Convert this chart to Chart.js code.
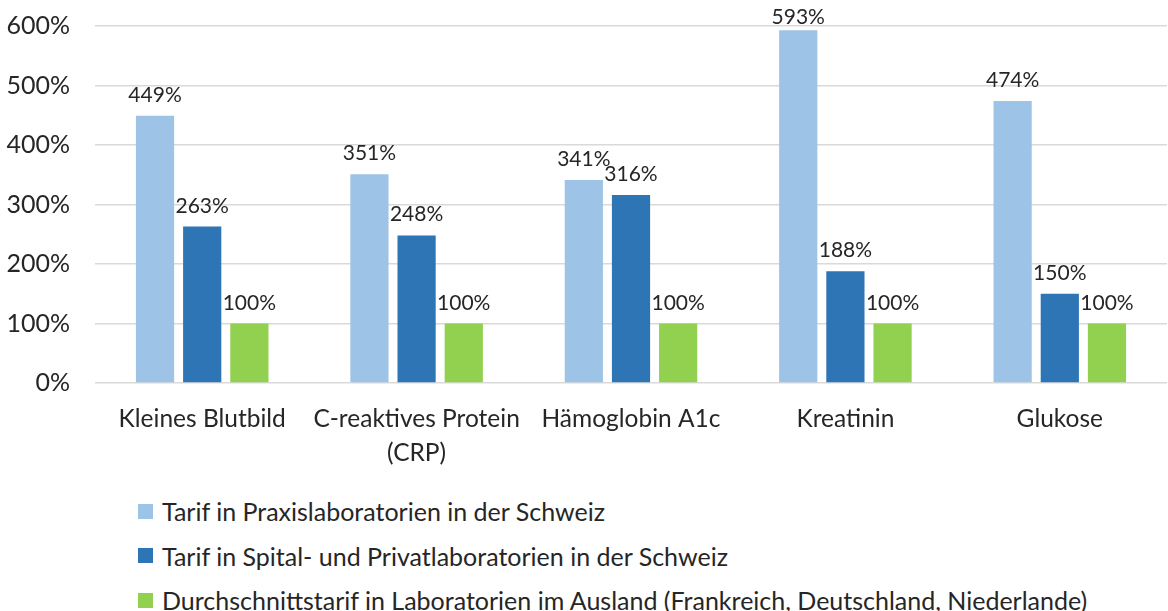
<!DOCTYPE html>
<html>
<head>
<meta charset="utf-8">
<script src="https://cdn.jsdelivr.net/npm/chart.js@4/dist/chart.umd.min.js"></script>
<style>
  body { margin: 0; background: #fff; font-family: Lato, "Open Sans", sans-serif; overflow: hidden; }
  #wrap { position: relative; width: 1168px; height: 611px; overflow: hidden; }
  #chartBox { position: absolute; left: 0; top: -14px; width: 1168px; height: 494px; }
  #legend { position: absolute; left: 138px; top: 489px; color: #262626; font-size: 25px; }
  .item { display: flex; align-items: center; height: 44.5px; }
  .sw { width: 15px; height: 15px; margin-right: 9px; }
</style>
</head>
<body>
<div id="wrap">
  <div id="chartBox"><canvas id="chart"></canvas></div>
  <div id="legend"></div>
</div>
<script>
const categories = ["Kleines Blutbild", ["C-reaktives Protein", "(CRP)"], "Hämoglobin A1c", "Kreatinin", "Glukose"];
const seriesNames = [
    "Tarif in Praxislaboratorien in der Schweiz",
    "Tarif in Spital- und Privatlaboratorien in der Schweiz",
    "Durchschnittstarif in Laboratorien im Ausland (Frankreich, Deutschland, Niederlande)"
];
const praxis = [449, 351, 341, 593, 474];
const spital = [263, 248, 316, 188, 150];
const ausland = [100, 100, 100, 100, 100];
const colors = ["#9DC3E6", "#2E75B6", "#92D050"];
const yTicks = [0, 100, 200, 300, 400, 500, 600];

const fontFam = "Lato, 'Open Sans', sans-serif";

const valueLabels = {
    id: "valueLabels",
    afterDatasetsDraw(chart) {
        const ctx = chart.ctx;
        ctx.save();
        ctx.font = "21px " + fontFam;
        ctx.fillStyle = "#262626";
        ctx.textAlign = "center";
        ctx.textBaseline = "alphabetic";
        chart.data.datasets.forEach((ds, i) => {
            chart.getDatasetMeta(i).data.forEach((bar, j) => {
                // tallest bar: label is pushed down to sit just above the top gridline
                let y = Math.max(bar.y - 14, chart.chartArea.top - 2);
                ctx.fillText(ds.data[j] + "%", bar.x, y);
            });
        });
        ctx.restore();
    }
};

const ctx = document.getElementById("chart").getContext("2d");
const chart = new Chart(ctx, {
    type: 'bar',
    data: {
        labels: categories,
        datasets: [
            { label: seriesNames[0], data: praxis, backgroundColor: colors[0] },
            { label: seriesNames[1], data: spital, backgroundColor: colors[1] },
            { label: seriesNames[2], data: ausland, backgroundColor: colors[2] }
        ]
    },
    options: {
        responsive: true,
        maintainAspectRatio: false,
        animation: false,
        layout: { padding: { top: 13, right: 1, left: 0, bottom: 0 } },
        datasets: { bar: { categoryPercentage: 0.66, barPercentage: 0.81 } },
        plugins: { legend: { display: false }, tooltip: { enabled: false } },
        scales: {
            x: {
                grid: { display: false },
                border: { display: false },
                afterFit: (axis) => { axis.height = 97; },
                ticks: { color: "#262626", font: { family: fontFam, size: 24.5, lineHeight: 1.35 }, padding: 12, maxRotation: 0 }
            },
            y: {
                min: 0, max: 600,
                afterBuildTicks: (axis) => { axis.ticks = yTicks.map(v => ({ value: v })); },
                afterFit: (axis) => { axis.width = 95; },
                grid: { color: "#D9D9D9", lineWidth: 1.5, drawTicks: false },
                border: { display: false },
                ticks: { color: "#262626", padding: 25, font: { family: fontFam, size: 25 }, callback: v => v + "%" }
            }
        }
    },
    plugins: [valueLabels]
});

const legend = document.getElementById("legend");
seriesNames.forEach((name, i) => {
    const item = document.createElement("div");
    item.className = "item";
    item.innerHTML = '<span class="sw" style="background:' + colors[i] + '"></span><span>' + name + '</span>';
    legend.appendChild(item);
});
</script>
</body>
</html>
